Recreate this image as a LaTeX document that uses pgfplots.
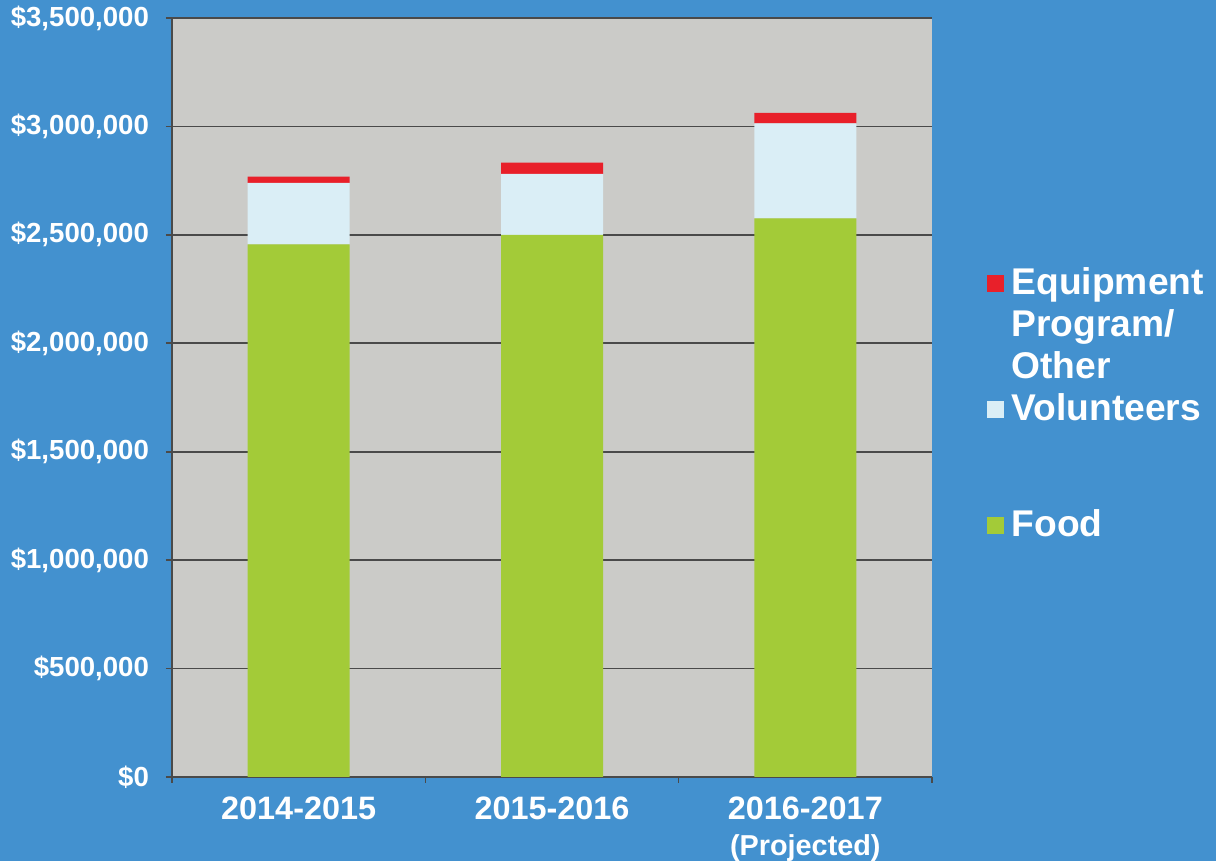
\documentclass[border=0pt]{standalone}
\usepackage{pgfplots}
\pgfplotsset{compat=1.18}
\usepackage{fontspec}
\setmainfont{Liberation Sans}
\definecolor{bgblue}{HTML}{4391CF}
\definecolor{plotgray}{HTML}{CBCBC8}
\definecolor{foodgreen}{HTML}{A3CB38}
\definecolor{volblue}{HTML}{DAEEF6}
\definecolor{eqred}{HTML}{E8202A}
\definecolor{gridgray}{HTML}{4A4A4A}
\begin{document}
\begin{tikzpicture}
\fill[bgblue] (-86pt,-42pt) rectangle (522pt,388.5pt);
\useasboundingbox (-86pt,-42pt) rectangle (522pt,388.5pt);
\begin{axis}[
  at={(0pt,0pt)}, anchor=south west,
  scale only axis, width=380pt, height=379.5pt,
  ybar stacked, bar width=51pt,
  xmin=-0.5, xmax=2.5, ymin=0, ymax=3500000,
  axis background/.style={fill=plotgray},
  axis lines*=left, axis line style={-, draw=gridgray, line width=0.8pt},
  ytick={0,500000,1000000,1500000,2000000,2500000,3000000,3500000},
  yticklabels={\$0,\$500{,}000,\$1{,}000{,}000,\$1{,}500{,}000,\$2{,}000{,}000,\$2{,}500{,}000,\$3{,}000{,}000,\$3{,}500{,}000},
  yticklabel style={font=\fontsize{13.8}{15}\selectfont\bfseries, text=white, xshift=-5pt},
  ymajorgrids, major grid style={draw=gridgray, line width=0.8pt},
  tick align=outside, major tick length=3pt,
  tick style={draw=gridgray, line width=0.8pt},
  xtick={-0.5,0.5,1.5,2.5}, xticklabels={},
  extra x ticks={0,1,2},
  extra x tick labels={2014-2015,2015-2016,{2016-2017\\[1pt]{\fontsize{14.4}{16}\selectfont (Projected)}}},
  extra x tick style={major tick length=0pt, xticklabel style={font=\fontsize{16.2}{17}\selectfont\bfseries, text=white, align=center, yshift=-6.5pt}},
  legend style={draw=none, fill=none, at={(1.0634,0.682)}, anchor=north west,
    font=\fontsize{18.6}{20.5}\selectfont\bfseries, text=white, row sep=0pt,
    nodes={text height=14pt, text depth=4pt, inner sep=1.5pt},
    /tikz/every odd column/.append style={column sep=2.5pt}},
  legend cell align=left,
  reverse legend,
  legend image code/.code={\fill[#1] (0pt,-3.5pt) rectangle (8.5pt,5pt);},
]
\addplot[fill=foodgreen, draw=none] coordinates {(0,2456000) (1,2500000) (2,2576000)};
\addlegendentry{Food}
\addlegendimage{empty legend}
\addlegendentry[text height=30pt]{}
\addplot[fill=volblue, draw=none] coordinates {(0,284000) (1,281000) (2,438000)};
\addlegendentry{Volunteers}
\addlegendimage{empty legend}
\addlegendentry{Other}
\addlegendimage{empty legend}
\addlegendentry{Program/}
\addplot[fill=eqred, draw=none] coordinates {(0,28000) (1,52000) (2,49000)};
\addlegendentry{Equipment}
\end{axis}
\end{tikzpicture}
\end{document}
